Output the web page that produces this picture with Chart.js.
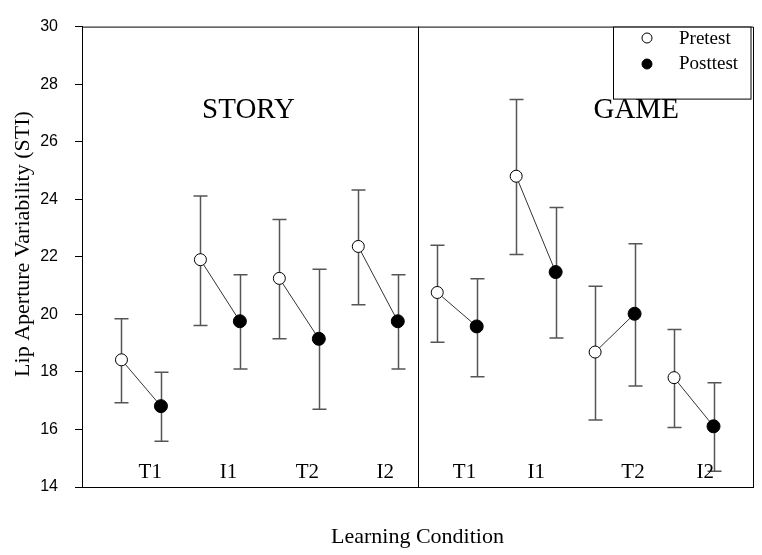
<!DOCTYPE html>
<html>
<head>
<meta charset="utf-8">
<script src="https://cdn.jsdelivr.net/npm/chart.js@4"></script>
<style>
  html, body { margin: 0; padding: 0; background: #fff; }
  #wrap { width: 762px; height: 555px; }
</style>
</head>
<body>
<div id="wrap"><canvas id="chart" width="762" height="555"></canvas></div>
<script>
// x positions: pretest / posttest per condition, STORY 1..8, GAME 9..16
const conditions = ['T1', 'I1', 'T2', 'I2', 'T1', 'I1', 'T2', 'I2'];
const preX  = [1, 3, 5, 7, 9, 11, 13, 15];
const postX = [2, 4, 6, 8, 10, 12, 14, 16];
const labelX = [1.73, 3.71, 5.71, 7.68, 9.69, 11.51, 13.96, 15.79];

const preMean = [18.42, 21.90, 21.25, 22.36, 20.76, 24.80, 18.69, 17.80];
const preHigh = [19.85, 24.11, 23.30, 24.32, 22.40, 27.47, 20.98, 19.47];
const preLow  = [16.93, 19.61, 19.15, 20.33, 19.03, 22.08, 16.33, 16.07];

const postMean = [16.81, 19.76, 19.15, 19.76, 19.58, 21.47, 20.02, 16.11];
const postHigh = [17.99, 21.38, 21.57, 21.38, 21.24, 23.71, 22.45, 17.62];
const postLow  = [15.59, 18.10, 16.70, 18.10, 17.83, 19.18, 17.51, 14.55];

const groups = ['STORY', 'GAME'];
const groupX = [4.22, 14.04];
const dividerX = 8.5;

const prePoints = preX.map((x, i) => ({ x: x, y: preMean[i] }));
const postPoints = postX.map((x, i) => ({ x: x, y: postMean[i] }));
// pre-post connecting segments, separated by gaps
const pairLine = [];
preX.forEach((x, i) => {
  pairLine.push({ x: x, y: preMean[i] });
  pairLine.push({ x: postX[i], y: postMean[i] });
  pairLine.push({ x: postX[i] + 0.5, y: null });
});

const serif = '"Liberation Serif", "Times New Roman", serif';

const extras = {
  id: 'extras',
  beforeDatasetsDraw(chart) {
    const { ctx, chartArea: a, scales: { x, y } } = chart;
    ctx.save();
    // frame top / right and divider
    ctx.strokeStyle = '#000';
    ctx.lineWidth = 1;
    ctx.beginPath();
    ctx.moveTo(a.left, a.top + 0.5);
    ctx.lineTo(a.right + 0.5, a.top + 0.5);
    ctx.lineTo(a.right + 0.5, a.bottom);
    const dx = Math.round(x.getPixelForValue(dividerX)) + 0.5;
    ctx.moveTo(dx, a.top);
    ctx.lineTo(dx, a.bottom);
    ctx.stroke();

    // error bars
    ctx.strokeStyle = '#555';
    ctx.lineWidth = 1.5;
    const bar = (xv, lo, hi) => {
      const px = Math.round(x.getPixelForValue(xv)) + 0.5;
      const pl = y.getPixelForValue(lo), ph = y.getPixelForValue(hi);
      ctx.beginPath();
      ctx.moveTo(px, pl); ctx.lineTo(px, ph);
      ctx.moveTo(px - 7, pl); ctx.lineTo(px + 7, pl);
      ctx.moveTo(px - 7, ph); ctx.lineTo(px + 7, ph);
      ctx.stroke();
    };
    preX.forEach((xv, i) => bar(xv, preLow[i], preHigh[i]));
    postX.forEach((xv, i) => bar(xv, postLow[i], postHigh[i]));

    // group titles and condition labels
    ctx.fillStyle = '#000';
    ctx.textAlign = 'center';
    ctx.textBaseline = 'middle';
    ctx.font = '29px ' + serif;
    groups.forEach((g, i) => ctx.fillText(g, x.getPixelForValue(groupX[i]), 110));
    ctx.font = '21px ' + serif;
    conditions.forEach((c, i) => ctx.fillText(c, x.getPixelForValue(labelX[i]), y.getPixelForValue(14.5)));

    // axis titles
    ctx.font = '22px ' + serif;
    ctx.fillText('Learning Condition', (a.left + a.right) / 2, 537);
    ctx.save();
    ctx.translate(23, 244);
    ctx.rotate(-Math.PI / 2);
    ctx.fillText('Lip Aperture Variability (STI)', 0, 0);
    ctx.restore();
    ctx.restore();
  },
  afterDatasetsDraw(chart) {
    const { ctx, chartArea: a } = chart;
    ctx.save();
    // legend box
    const lx = 613.5, ly = a.top + 0.5, lw = a.right - 613.5 - 2, lh = 72;
    ctx.fillStyle = '#fff';
    ctx.fillRect(lx, ly, lw, lh);
    ctx.strokeStyle = '#000';
    ctx.lineWidth = 1;
    ctx.strokeRect(lx, ly, lw, lh);
    ctx.beginPath(); ctx.arc(647, 38, 5, 0, Math.PI * 2);
    ctx.fillStyle = '#fff'; ctx.fill(); ctx.stroke();
    ctx.beginPath(); ctx.arc(647, 64, 5, 0, Math.PI * 2);
    ctx.fillStyle = '#000'; ctx.fill(); ctx.stroke();
    ctx.font = '19px ' + serif;
    ctx.textAlign = 'left';
    ctx.textBaseline = 'middle';
    ctx.fillText('Pretest', 679, 39);
    ctx.fillText('Posttest', 679, 64);
    ctx.restore();
  }
};

new Chart(document.getElementById('chart'), {
  type: 'scatter',
  data: {
    datasets: [
      {
        type: 'line',
        label: 'pairs',
        data: pairLine,
        order: 3,
        borderColor: '#333',
        borderWidth: 1,
        pointRadius: 0,
        spanGaps: false,
        fill: false
      },
      {
        label: 'Pretest',
        data: prePoints,
        order: 1,
        pointRadius: 6,
        pointBackgroundColor: '#fff',
        pointBorderColor: '#000',
        pointBorderWidth: 1
      },
      {
        label: 'Posttest',
        data: postPoints,
        order: 1,
        pointRadius: 6.5,
        pointBackgroundColor: '#000',
        pointBorderColor: '#000',
        pointBorderWidth: 1
      }
    ]
  },
  options: {
    responsive: false,
    animation: false,
    layout: { padding: { top: 15, right: 9, left: 0, bottom: 0 } },
    plugins: {
      legend: { display: false },
      tooltip: { enabled: false }
    },
    scales: {
      x: {
        type: 'linear',
        min: 0,
        max: 17,
        grid: { display: false },
        border: { display: true, color: '#000', width: 1 },
        ticks: { display: false },
        afterFit(scale) { scale.height = 68; }
      },
      y: {
        min: 14,
        max: 30,
        ticks: {
          stepSize: 2,
          padding: 17,
          color: '#000',
          font: { family: '"Liberation Sans", Arial, sans-serif', size: 16 }
        },
        grid: { display: true, drawOnChartArea: false, drawTicks: true, tickLength: 7, color: '#000' },
        border: { display: true, color: '#000', width: 1 },
        afterFit(scale) { scale.width = 82; }
      }
    }
  },
  plugins: [extras]
});
</script>
</body>
</html>
